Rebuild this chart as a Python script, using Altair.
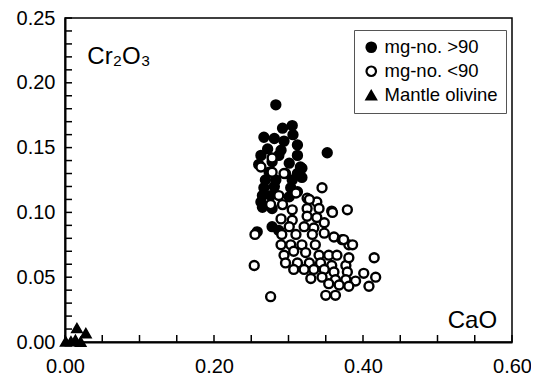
import altair as alt
import pandas as pd

# mg-no. > 90 (filled circles)
hi_x = [0.283, 0.305, 0.292, 0.267, 0.281, 0.294, 0.312, 0.352, 0.272, 0.263, 0.287, 0.312,
        0.260, 0.278, 0.301, 0.316, 0.274, 0.296, 0.312, 0.269, 0.283, 0.305, 0.318, 0.267,
        0.281, 0.303, 0.265, 0.276, 0.301, 0.312, 0.263, 0.265, 0.278, 0.278, 0.287, 0.258,
        0.318, 0.290, 0.306]
hi_y = [0.183, 0.167, 0.165, 0.158, 0.157, 0.155, 0.152, 0.146, 0.149, 0.144, 0.144, 0.144,
        0.137, 0.139, 0.138, 0.135, 0.131, 0.130, 0.130, 0.125, 0.125, 0.125, 0.127, 0.119,
        0.120, 0.119, 0.113, 0.113, 0.112, 0.116, 0.108, 0.104, 0.103, 0.089, 0.086, 0.085,
        0.134, 0.148, 0.160]

# mg-no. < 90 (open circles)
lo_x = [0.263, 0.278, 0.278, 0.294, 0.345, 0.287, 0.310, 0.325, 0.338,
        0.328, 0.276, 0.292, 0.305, 0.325, 0.341, 0.358, 0.379, 0.290, 0.305, 0.325, 0.338,
        0.348, 0.301, 0.321, 0.334, 0.291, 0.310, 0.332, 0.348, 0.361, 0.290, 0.303, 0.318,
        0.336, 0.372, 0.381, 0.294, 0.307, 0.323, 0.341, 0.354, 0.365, 0.296, 0.312, 0.328,
        0.343, 0.358, 0.377, 0.307, 0.321, 0.334, 0.348, 0.361, 0.379, 0.330, 0.345, 0.363,
        0.377, 0.390, 0.401, 0.354, 0.368, 0.381, 0.254, 0.276, 0.350, 0.359, 0.374, 0.386,
        0.381, 0.415, 0.363, 0.417, 0.408, 0.255]
lo_y = [0.135, 0.142, 0.131, 0.130, 0.119, 0.113, 0.115, 0.111, 0.108,
        0.110, 0.106, 0.106, 0.102, 0.103, 0.103, 0.101, 0.102, 0.095, 0.094, 0.097, 0.096,
        0.092, 0.089, 0.089, 0.088, 0.083, 0.083, 0.083, 0.084, 0.081, 0.075, 0.075, 0.075,
        0.075, 0.079, 0.075, 0.067, 0.070, 0.069, 0.067, 0.067, 0.067, 0.061, 0.061, 0.061,
        0.061, 0.059, 0.059, 0.056, 0.056, 0.056, 0.056, 0.054, 0.054, 0.049, 0.050, 0.048,
        0.048, 0.047, 0.053, 0.045, 0.044, 0.043, 0.059, 0.035, 0.036, 0.100, 0.079, 0.075,
        0.065, 0.065, 0.036, 0.050, 0.043, 0.083]

# Mantle olivine (triangles)
ol_x = [0.016, 0.028, 0.001, 0.014, 0.021, 0.008]
ol_y = [0.0106, 0.0067, 0.0002, 0.0015, 0.0000, 0.0004]

groups = ["mg-no. >90", "mg-no. <90", "Mantle olivine"]

# axis labels and (inward) minor tick positions
x_labels = [0.00, 0.20, 0.40, 0.60]
y_labels = [0.00, 0.05, 0.10, 0.15, 0.20, 0.25]
x_ticks = [0.00, 0.05, 0.10, 0.15, 0.20, 0.25, 0.30, 0.35, 0.40, 0.45, 0.50, 0.55, 0.60]
y_ticks = [0.00, 0.01, 0.02, 0.03, 0.04, 0.05, 0.06, 0.07, 0.08, 0.09, 0.10, 0.11, 0.12,
           0.13, 0.14, 0.15, 0.16, 0.17, 0.18, 0.19, 0.20, 0.21, 0.22, 0.23, 0.24, 0.25]

notes = ["Cr\u2082O\u2083", "CaO"]
note_x = [0.030, 0.580]
note_y = [0.2145, 0.0105]
note_align = ["left", "right"]

rows = []
for x, y in zip(hi_x, hi_y):
    rows.append({"CaO": x, "Cr2O3": y, "group": groups[0]})
for x, y in zip(lo_x, lo_y):
    rows.append({"CaO": x, "Cr2O3": y, "group": groups[1]})
for x, y in zip(ol_x, ol_y):
    rows.append({"CaO": x, "Cr2O3": y, "group": groups[2]})
df = pd.DataFrame(rows)

notes_df = pd.DataFrame({"t": notes, "x": note_x, "y": note_y, "a": note_align})
xt_df = pd.DataFrame({"v": x_ticks})
yt_df = pd.DataFrame({"v": y_ticks})

FONT = "Liberation Sans"
W, H = 447, 324
TICK = 7

xscale = alt.Scale(domain=[0, 0.6], nice=False, zero=False)
yscale = alt.Scale(domain=[0, 0.25], nice=False, zero=False)

xaxis = alt.Axis(
    values=x_labels, format=".2f", title=None, grid=False, ticks=False,
    labelPadding=14, labelFlush=False, labelOverlap=False,
    labelFont=FONT, labelFontSize=20, labelColor="black",
    domainColor="black", domainWidth=2,
)
yaxis = alt.Axis(
    values=y_labels, format=".2f", title=None, grid=False, ticks=False,
    labelPadding=10, labelFlush=False, labelOverlap=False,
    labelFont=FONT, labelFontSize=20, labelColor="black",
    domainColor="black", domainWidth=2,
)

legend = alt.Legend(title=None, orient="none", legendX=289, legendY=12,
                    labelFont=FONT, labelFontSize=18.5, labelColor="black",
                    strokeColor="#555", padding=8, rowPadding=5,
                    symbolSize=90, symbolStrokeWidth=2.2)

points = alt.Chart(df).mark_point(filled=False, strokeWidth=2.4, size=80, opacity=1).encode(
    x=alt.X("CaO:Q", scale=xscale, axis=xaxis),
    y=alt.Y("Cr2O3:Q", scale=yscale, axis=yaxis),
    shape=alt.Shape("group:N", scale=alt.Scale(domain=groups, range=["circle", "circle", "triangle-up"]),
                    legend=legend),
    fill=alt.Fill("group:N", scale=alt.Scale(domain=groups, range=["black", "white", "black"]),
                  legend=legend),
    stroke=alt.Stroke("group:N", scale=alt.Scale(domain=groups, range=["black", "black", "black"]),
                      legend=legend),
)

xticks_layer = alt.Chart(xt_df).mark_rule(color="black", strokeWidth=1.5).encode(
    x=alt.X("v:Q", scale=xscale),
    y=alt.value(H), y2=alt.value(H - TICK),
)
yticks_layer = alt.Chart(yt_df).mark_rule(color="black", strokeWidth=1.5).encode(
    y=alt.Y("v:Q", scale=yscale),
    x=alt.value(0), x2=alt.value(TICK),
)

t1 = alt.Chart(notes_df[notes_df.a == "left"]).mark_text(font=FONT, fontSize=24, color="black",
                                                        baseline="alphabetic", align="left").encode(
    x=alt.X("x:Q", scale=xscale), y=alt.Y("y:Q", scale=yscale), text="t:N")
t2 = alt.Chart(notes_df[notes_df.a == "right"]).mark_text(font=FONT, fontSize=24, color="black",
                                                         baseline="alphabetic", align="right").encode(
    x=alt.X("x:Q", scale=xscale), y=alt.Y("y:Q", scale=yscale), text="t:N")

chart = alt.layer(points, xticks_layer, yticks_layer, t1, t2).properties(
    width=W, height=H,
    autosize=alt.AutoSizeParams(type="none"),
    padding={"left": 57, "top": 10, "right": 19, "bottom": 34},
    background="white",
).configure_view(stroke="black", strokeWidth=1.5)

chart.save("out.html", embed_options={"renderer": "svg", "actions": False})
